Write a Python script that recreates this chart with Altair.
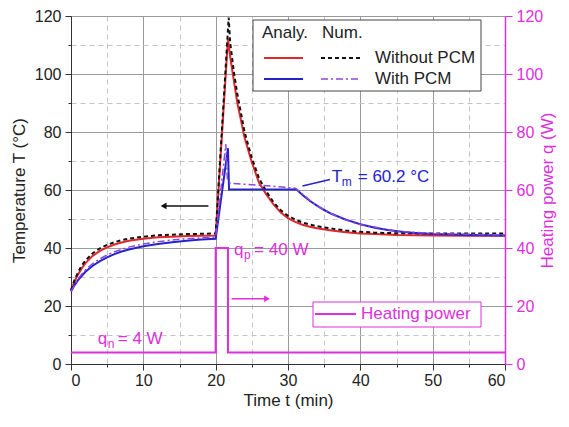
import altair as alt
import pandas as pd

# ---------------- data ----------------
# Analytical, without PCM (red solid)
t_an_nopcm = [0, 0.5, 1, 1.5, 2, 3, 4, 5, 6, 7, 8, 10, 12, 14, 16, 18, 20,
              21.7, 22, 22.5, 23, 23.5, 24, 25, 26, 27, 28, 29, 30, 31, 32, 33, 34,
              36, 38, 40, 42, 45, 50, 55, 60]
T_an_nopcm = [25.5, 28.5, 31, 33, 34.8, 37.3, 39, 40.2, 41.2, 41.9, 42.5, 43.2, 43.7, 43.9, 44.1, 44.2, 44.3,
              112.2, 106, 98, 90, 84, 78, 69.5, 62.5, 58.5, 55, 52.2, 50.3, 49, 48, 47.3, 46.8,
              46, 45.4, 45, 44.8, 44.5, 44.3, 44.2, 44.2]
# Numerical, without PCM (black dashed)
t_num_nopcm = [0, 0.5, 1, 1.5, 2, 3, 4, 5, 6, 7, 8, 10, 12, 14, 16, 18, 20,
               21.8, 22, 22.5, 23, 23.5, 24, 25, 26, 27, 28, 29, 30, 31, 32, 33, 34,
               36, 38, 40, 42, 45, 50, 55, 60]
T_num_nopcm = [25.5, 29, 31.8, 34, 35.7, 38.2, 39.9, 41.1, 42, 42.7, 43.2, 43.9, 44.4, 44.6, 44.8, 44.9, 45,
               119.5, 111, 101, 93, 86.5, 80, 71, 64, 59.5, 55.8, 53, 51.1, 49.8, 48.8, 48.1, 47.5,
               46.7, 46, 45.6, 45.3, 45.1, 45, 45, 45]
# Analytical, with PCM (blue solid)
t_an_pcm = [0, 0.5, 1, 2, 3, 4, 5, 6, 7, 8, 10, 12, 14, 16, 18, 20,
            21.7, 21.85, 31.2, 32, 33, 34, 35, 36, 38, 40, 42, 44, 46, 48, 50, 55, 60]
T_an_pcm = [25, 27.2, 29, 31.8, 33.9, 35.5, 36.8, 37.9, 38.8, 39.5, 40.6, 41.4, 42, 42.5, 42.9, 43.2,
            74.4, 60.2, 60.2, 58.3, 56.3, 54.6, 53.1, 51.8, 49.8, 48.2, 47, 46.1, 45.5, 45.1, 44.8, 44.5, 44.3]
# Numerical, with PCM (purple dash-dot)
t_num_pcm = [0, 1, 2, 3, 4, 5, 6, 8, 10, 12, 15, 20,
             21.4, 21.6, 22, 25, 28, 31, 32, 33, 34, 36, 38, 40, 45, 50, 60]
T_num_pcm = [25, 29.5, 32.5, 34.6, 36.3, 37.6, 38.7, 40.3, 41.4, 42.2, 43, 43.8,
             75.8, 64, 62.3, 61.8, 61.3, 60.6, 58.6, 56.5, 54.6, 51.8, 49.6, 48.1, 45.8, 45, 44.5]
# Heating power (magenta, right axis)
t_q = [0, 20, 20, 21.7, 21.7, 60]
q_W = [4, 4, 40, 40, 4, 4]

# axis ticks
x_major = [0, 10, 20, 30, 40, 50, 60]
x_minor = [5, 15, 25, 35, 45, 55]
y_major = [0, 20, 40, 60, 80, 100, 120]
y_minor = [10, 30, 50, 70, 90, 110]

# annotations (data coordinates)
arrow_T_t = [19.0, 12.8]
arrow_T_y = [54.5, 54.5]
arrow_q_t = [22.2, 27.1]
arrow_q_y = [22.5, 22.5]
tm_line_t = [32.0, 35.8]
tm_line_y = [61.4, 63.6]

FONT = "Liberation Sans"
RED = "#e3262b"
BLUE = "#2424c8"
PURPLE = "#8f45e0"
BLACK = "#111111"
MAG = "#dd2fdd"
W, H = 434, 348

xs = alt.Scale(domain=[0, 60], nice=False, zero=False)
ys = alt.Scale(domain=[0, 120], nice=False, zero=False)

def sdf(t, v):
    return pd.DataFrame({"t": t, "v": v})

one = pd.DataFrame({"a": [0]})

# minor grid layer (invisible marks, axes only)
minor = alt.Chart(sdf(t_q, q_W)).mark_line(opacity=0).encode(
    x=alt.X("t:Q", scale=xs, axis=alt.Axis(values=x_minor, grid=True, gridColor="#c4c4c4",
                                           gridDash=[5, 4], labels=False, ticks=True, tickSize=3,
                                           tickColor="#333", domain=False, title=None, orient="bottom")),
    y=alt.Y("v:Q", scale=ys, axis=alt.Axis(values=y_minor, grid=True, gridColor="#c4c4c4",
                                           gridDash=[5, 4], labels=False, ticks=True, tickSize=3,
                                           tickColor="#333", domain=False, title=None, orient="left")),
)

def line(t, v, color, width, dash=None, axes=False):
    kw = dict(color=color, strokeWidth=width)
    if dash:
        kw["strokeDash"] = dash
    if axes:
        xa = alt.Axis(values=x_major, grid=True, gridColor="#9a9a9a", gridWidth=1, tickSize=6,
                      tickColor="#333", domainColor="#333", labelFontSize=16, labelFont=FONT,
                      labelColor="#222", labelPadding=2, title="Time t (min)", titleFont=FONT,
                      titleFontSize=17, titleFontWeight="normal", titleColor="#222", titlePadding=4,
                      format="d", orient="bottom")
        ya = alt.Axis(values=y_major, grid=True, gridColor="#9a9a9a", gridWidth=1, tickSize=6,
                      tickColor="#333", domainColor="#333", labelFontSize=16, labelFont=FONT,
                      labelColor="#222", labelPadding=4, title="Temperature T (°C)", titleFont=FONT,
                      titleFontSize=17, titleFontWeight="normal", titleColor="#222", titlePadding=6,
                      orient="left", format="d")
    else:
        xa = None
        ya = None
    return alt.Chart(sdf(t, v)).mark_line(**kw).encode(
        x=alt.X("t:Q", scale=xs, axis=xa),
        y=alt.Y("v:Q", scale=ys, axis=ya),
    )

red = line(t_an_nopcm, T_an_nopcm, RED, 2, axes=True)
blue = line(t_an_pcm, T_an_pcm, BLUE, 2)
black = line(t_num_nopcm, T_num_nopcm, BLACK, 2, dash=[4, 3])
purple = line(t_num_pcm, T_num_pcm, PURPLE, 1.5, dash=[7, 3, 2, 3])

power = alt.Chart(sdf(t_q, q_W)).mark_line(color=MAG, strokeWidth=2).encode(
    x=alt.X("t:Q", scale=xs, axis=None),
    y=alt.Y("v:Q", scale=ys, axis=alt.Axis(values=y_major, orient="right", grid=False, tickSize=7,
                                           tickColor=MAG, domainColor=MAG, domainWidth=1.5,
                                           labelColor=MAG, labelFontSize=16, labelFont=FONT,
                                           labelPadding=4, title="Heating power q (W)",
                                           titleColor=MAG, titleFont=FONT, titleFontSize=17,
                                           titleFontWeight="normal", titleAngle=270,
                                           titlePadding=14, format="d")),
)

# arrows
def arrow(t, v, color):
    d = sdf(t, v)
    shaft = alt.Chart(d).mark_line(color=color, strokeWidth=1.5).encode(
        x=alt.X("t:Q", scale=xs, axis=None), y=alt.Y("v:Q", scale=ys, axis=None))
    head_shape = "triangle-left" if t[1] < t[0] else "triangle-right"
    head = alt.Chart(sdf([t[1]], [v[1]])).mark_point(shape=head_shape, filled=True, color=color,
                                                     size=45, opacity=1).encode(
        x=alt.X("t:Q", scale=xs, axis=None), y=alt.Y("v:Q", scale=ys, axis=None))
    return shaft + head

arrT = arrow(arrow_T_t, arrow_T_y, BLACK)
arrQ = arrow(arrow_q_t, arrow_q_y, MAG)
tmline = alt.Chart(sdf(tm_line_t, tm_line_y)).mark_line(color=BLUE, strokeWidth=1.5).encode(
    x=alt.X("t:Q", scale=xs, axis=None), y=alt.Y("v:Q", scale=ys, axis=None))

# subscripted annotations
def sub_label(t, v, main, sub, rest, color, dx_sub, dx_rest):
    d = sdf([t], [v])
    enc = dict(x=alt.X("t:Q", scale=xs, axis=None), y=alt.Y("v:Q", scale=ys, axis=None))
    a = alt.Chart(d).mark_text(text=main, align="left", baseline="alphabetic", font=FONT,
                               fontSize=17, color=color).encode(**enc)
    b = alt.Chart(d).mark_text(text=sub, align="left", baseline="alphabetic", font=FONT,
                               fontSize=12, color=color, dx=dx_sub, dy=4).encode(**enc)
    c = alt.Chart(d).mark_text(text=rest, align="left", baseline="alphabetic", font=FONT,
                               fontSize=17, color=color, dx=dx_rest).encode(**enc)
    return a + b + c

lab_qn = sub_label(3.7, 6.9, "q", "n", "= 4 W", MAG, 10, 20)
lab_qp = sub_label(22.55, 37.5, "q", "p", "= 40 W", MAG, 10, 20)
lab_tm = sub_label(36.05, 62.8, "T", "m", "= 60.2 °C", BLUE, 10, 26)

# manual legend (pixel positions inside the plot area)
def vrect(x1, x2, y1, y2, stroke):
    return alt.Chart(one).mark_rect(fill="white", stroke=stroke, strokeWidth=1).encode(
        x=alt.value(x1), x2=alt.value(x2), y=alt.value(y1), y2=alt.value(y2))

def vline(x1, x2, y, color, width, dash=None):
    kw = dict(color=color, strokeWidth=width)
    if dash:
        kw["strokeDash"] = dash
    return alt.Chart(one).mark_rule(**kw).encode(x=alt.value(x1), x2=alt.value(x2), y=alt.value(y))

def vtext(x, y, s, color):
    return alt.Chart(one).mark_text(text=s, align="left", baseline="middle", font=FONT,
                                    fontSize=17, color=color).encode(x=alt.value(x), y=alt.value(y))

legend = (vrect(182, 410, 4, 75, "#444")
          + vtext(191, 17, "Analy.", "#222") + vtext(251, 17, "Num.", "#222")
          + vline(193, 232, 42, RED, 2) + vline(250, 289, 42, BLACK, 2, [4, 3])
          + vtext(304, 42, "Without PCM", "#222")
          + vline(193, 232, 63, BLUE, 2) + vline(250, 289, 63, PURPLE, 1.5, [7, 3, 2, 3])
          + vtext(304, 63, "With PCM", "#222"))

legend2 = (vrect(242, 410, 286, 311, MAG)
           + vline(244, 285, 298, MAG, 2)
           + vtext(290, 298, "Heating power", MAG))

chart = alt.layer(
    minor, red, black, blue, purple, power, arrT, arrQ, tmline,
    lab_qn, lab_qp, lab_tm, legend, legend2
).resolve_axis(x="independent", y="independent").properties(
    width=W, height=H,
    padding={"left": 63, "top": 8, "right": 56, "bottom": 50},
    autosize=alt.AutoSizeParams(type="none"),
).configure_view(stroke="#333", strokeWidth=1).configure(background="white")

chart.save("out.html", embed_options={"renderer": "svg", "actions": False})
